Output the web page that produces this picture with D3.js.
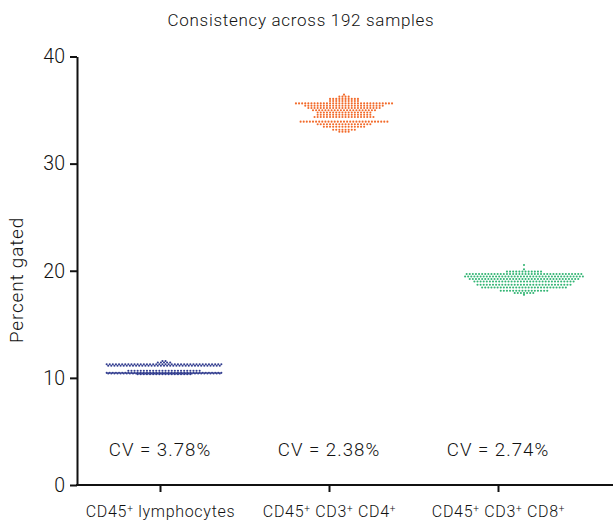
<!DOCTYPE html>
<html lang="en">
<head>
    <meta charset="UTF-8">
    <title>Consistency across 192 samples</title>
    <script src="https://d3js.org/d3.v7.min.js"></script>
    <style>
        body { margin: 0; background: #fff; }
        svg { display: block; }
        text { font-family: Roboto, "Liberation Sans", sans-serif; font-weight: 300; fill: #111; }
    </style>
</head>
<body>
    <svg id="chart" width="613" height="521"></svg>

    <script>
        // groups and summary labels
        const groups = ["lymph", "cd4", "cd8"];
        const groupLabels = [["CD45", "+", " lymphocytes"], ["CD45", "+", " CD3", "+", " CD4", "+"], ["CD45", "+", " CD3", "+", " CD8", "+"]];
        const cvLabels = ["CV = 3.78%", "CV = 2.38%", "CV = 2.74%"];
        const colors = ["#323d8f", "#f26a2a", "#33b574"];
        const yTicks = [0, 10, 20, 30, 40];

        // swarm rows: [percent gated, number of samples in that row]
        const lymphRows = [[11.58, 2], [11.44, 5], [11.27, 38], [11.13, 37], [10.67, 24], [10.47, 38], [10.42, 37], [10.35, 18]];
        const cd4Rows = [[36.44, 1], [36.25, 4], [36.04, 10], [35.84, 10], [35.62, 32], [35.40, 26], [35.19, 24], [34.98, 21],
                         [34.77, 18], [34.56, 18], [34.35, 20], [33.92, 29], [33.68, 18], [33.44, 14], [33.16, 8], [32.98, 4]];
        const cd8Rows = [[20.54, 1], [20.13, 1], [19.92, 12], [19.70, 38], [19.47, 39], [19.23, 36], [18.99, 33],
                         [18.70, 31], [18.43, 28], [18.13, 16], [17.92, 7], [17.75, 1]];
        const allRows = [lymphRows, cd4Rows, cd8Rows];

        const svg = d3.select("#chart");
        const y = d3.scaleLinear().domain([0, 40]).range([485, 56.5]);
        const xTick = d3.scalePoint().domain(groups).range([160, 498]);
        const xDots = d3.scalePoint().domain(groups).range([164, 524]);
        const pitch = 3.1;

        // dots
        groups.forEach((g, gi) => {
            const pts = [];
            allRows[gi].forEach(([v, n]) => {
                for (let i = 0; i < n; i++) pts.push({ v, off: (i - (n - 1) / 2) * pitch });
            });
            svg.append("g").selectAll("circle").data(pts).enter().append("circle")
                .attr("cx", d => xDots(g) + d.off).attr("cy", d => y(d.v))
                .attr("r", 1.05).attr("fill", colors[gi]);
        });

        // y axis
        const yAxis = svg.append("g").attr("transform", "translate(77,0)")
            .call(d3.axisLeft(y).tickValues(yTicks).tickSize(7).tickSizeOuter(0).tickPadding(5));
        yAxis.select(".domain").attr("stroke", "#111").attr("stroke-width", 2);
        yAxis.selectAll(".tick line").attr("stroke", "#111").attr("stroke-width", 2);
        yAxis.selectAll(".tick text").attr("font-size", 19.5).attr("font-family", null);

        // x axis
        svg.append("line").attr("x1", 76).attr("x2", 613).attr("y1", y(0)).attr("y2", y(0))
            .attr("stroke", "#111").attr("stroke-width", 2);
        const xAxis = svg.append("g").attr("transform", `translate(0,${y(0)})`)
            .call(d3.axisBottom(xTick).tickSize(7).tickSizeOuter(0).tickPadding(14).tickFormat(""));
        xAxis.select(".domain").remove();
        xAxis.selectAll(".tick line").attr("stroke", "#111").attr("stroke-width", 2);
        xAxis.selectAll(".tick text").attr("font-size", 16).attr("letter-spacing", 0.7).attr("font-family", null)
            .each(function(d, i) {
                const t = d3.select(this);
                groupLabels[i].forEach(part => {
                    if (part === "+") t.append("tspan").attr("font-size", 10).attr("baseline-shift", "5").text("+");
                    else t.append("tspan").text(part);
                });
            });

        // CV labels
        svg.append("g").selectAll("text").data(cvLabels).enter().append("text")
            .attr("x", (d, i) => xTick(groups[i])).attr("y", 456)
            .attr("text-anchor", "middle").attr("font-size", 18.7).attr("letter-spacing", 1).text(d => d);

        // title and y label
        svg.append("text").attr("x", 301).attr("y", 26).attr("text-anchor", "middle")
            .attr("font-size", 17).attr("letter-spacing", 0.7).text("Consistency across 192 samples");
        svg.append("text").attr("transform", "translate(23,280) rotate(-90)").attr("text-anchor", "middle")
            .attr("font-size", 19).attr("letter-spacing", 0.8).text("Percent gated");
    </script>
</body>
</html>
